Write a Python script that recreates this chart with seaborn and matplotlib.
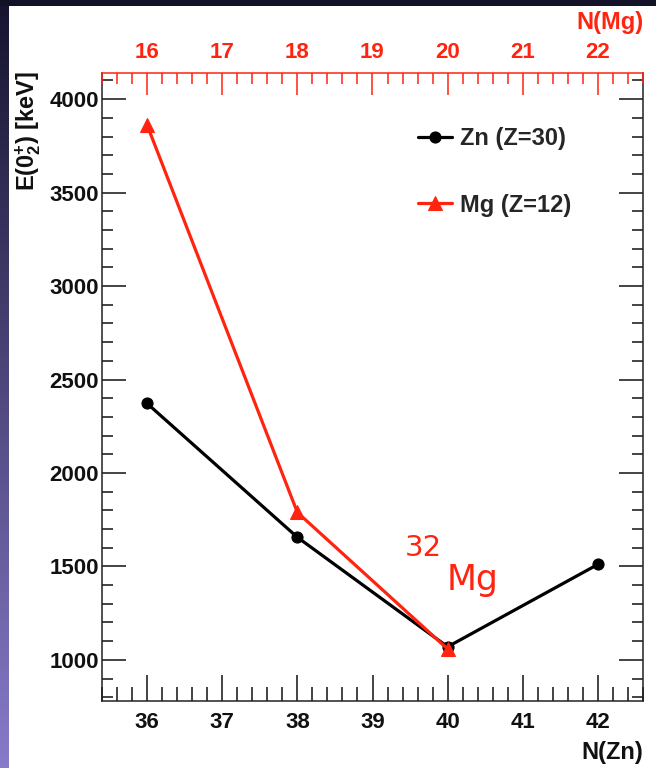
import numpy as np
import pandas as pd
import matplotlib
matplotlib.use('Agg')
import matplotlib.pyplot as plt
from matplotlib.ticker import MultipleLocator
from matplotlib.patches import Rectangle
import seaborn as sns

# Energies of the second 0+ state (keV)
n_zn = [36, 38, 40, 42]
e_zn = [2372, 1656, 1070, 1511]
n_mg = [16, 18, 20]
e_mg = [3862, 1789, 1058]

label_zn = 'Zn (Z=30)'
label_mg = 'Mg (Z=12)'

RED = '#ff2410'
W, H = 656, 768

sns.set_style('white')
plt.rcParams['font.family'] = ['Liberation Sans', 'DejaVu Sans']
plt.rcParams['font.weight'] = 'bold'
plt.rcParams['mathtext.fontset'] = 'custom'
plt.rcParams['mathtext.rm'] = 'Liberation Sans:bold'
plt.rcParams['mathtext.it'] = 'Liberation Sans:bold'
plt.rcParams['mathtext.bf'] = 'Liberation Sans:bold'

df_zn = pd.DataFrame({'N': n_zn, 'E': e_zn})
df_mg = pd.DataFrame({'N': n_mg, 'E': e_mg})

fig = plt.figure(figsize=(W / 100, H / 100), dpi=100)
fig.patch.set_facecolor('#111127')

# slide-like background: white panel and purple gradient strip on the left
fig.add_artist(Rectangle((9 / W, 0), 1, 1 - 6 / H, transform=fig.transFigure,
                         facecolor='white', edgecolor='none', zorder=-10))
bg = fig.add_axes([0, 0, 9 / W, 1 - 6 / H], zorder=-5)
top_c = np.array([0x16, 0x14, 0x2f]) / 255
bot_c = np.array([0x87, 0x7b, 0xca]) / 255
t = np.linspace(0, 1, 256)[:, None]
grad = top_c[None, :] * (1 - t) + bot_c[None, :] * t
bg.imshow(grad[:, None, :], aspect='auto', extent=[0, 1, 0, 1])
bg.set_axis_off()

ax = fig.add_axes([102 / W, 1 - 701 / H, (643 - 102) / W, (701 - 73) / H])
ax.set_facecolor('white')
sns.lineplot(data=df_zn, x='N', y='E', ax=ax, color='black', lw=2.3,
             marker='o', markersize=8, markeredgecolor='black', label=label_zn,
             legend=False)
ax.set_xlim(35.4, 42.6)
ax.set_ylim(780, 4140)

ax2 = ax.twiny()
sns.lineplot(data=df_mg, x='N', y='E', ax=ax2, color=RED, lw=2.3,
             marker='^', markersize=10, markeredgecolor=RED, label=label_mg,
             legend=False)
ax2.set_xlim(15.4, 22.6)
ax2.set_ylim(780, 4140)

# axis styling (ROOT look: inward ticks, mirrored y)
for a in (ax, ax2):
    a.set_xlabel('')
    a.set_ylabel('')
for s in ['left', 'bottom', 'right']:
    ax.spines[s].set_color('#222222')
    ax.spines[s].set_linewidth(1.1)
    ax2.spines[s].set_visible(False)
ax.spines['top'].set_visible(False)
ax2.spines['top'].set_color(RED)
ax2.spines['top'].set_linewidth(1.1)

ax.xaxis.set_major_locator(MultipleLocator(1))
ax.xaxis.set_minor_locator(MultipleLocator(0.2))
ax.yaxis.set_major_locator(MultipleLocator(500))
ax.yaxis.set_minor_locator(MultipleLocator(100))
ax.tick_params(axis='x', which='both', direction='in', top=False, bottom=True,
               labelsize=16, pad=8, colors='#111111')
ax.tick_params(axis='x', which='major', length=19, width=1.1)
ax.tick_params(axis='x', which='minor', length=10, width=1.1)
ax.tick_params(axis='y', which='both', direction='in', left=True, right=True,
               labelsize=16, pad=2, colors='#111111')
ax.tick_params(axis='y', which='major', length=17, width=1.1)
ax.tick_params(axis='y', which='minor', length=8, width=1.1)

ax2.xaxis.set_major_locator(MultipleLocator(1))
ax2.xaxis.set_minor_locator(MultipleLocator(0.2))
ax2.tick_params(axis='x', which='both', direction='in', top=True, bottom=False,
                labelsize=16, pad=7.5, colors=RED)
ax2.tick_params(axis='x', which='major', length=16, width=1.1)
ax2.tick_params(axis='x', which='minor', length=8, width=1.1)
ax2.tick_params(axis='y', left=False, right=False, labelleft=False)

for lab in ax.get_xticklabels() + ax.get_yticklabels() + ax2.get_xticklabels():
    lab.set_fontweight('bold')

# legend
h1, l1 = ax.get_legend_handles_labels()
h2, l2 = ax2.get_legend_handles_labels()
leg = ax2.legend(h1 + h2, l1 + l2, loc='upper left', bbox_to_anchor=(0.584, 0.914),
                 frameon=False, handlelength=1.45, handletextpad=0.35,
                 labelspacing=1.85, borderpad=0, borderaxespad=0, numpoints=1,
                 prop={'weight': 'bold', 'size': 17})

# annotation for 32Mg
ax.text(39.43, 1600, '32', color=RED, fontsize=21, family='DejaVu Sans',
        fontweight='normal', ha='left', va='center')
ax.text(39.99, 1375, 'Mg', color=RED, fontsize=25, family='DejaVu Sans',
        fontweight='normal', ha='left', va='baseline')

# axis titles
fig.text(643 / W, 1 - 752 / H, 'N(Zn)', ha='right', va='center', fontsize=17,
         fontweight='bold', color='#111111')
fig.text(643 / W, 1 - 22 / H, 'N(Mg)', ha='right', va='center', fontsize=17,
         fontweight='bold', color=RED)
fig.text(28 / W, 1 - 71 / H, r'E(0$^{+}_{2}$) [keV]', ha='center', va='top',
         rotation=90, fontsize=17, fontweight='bold', color='#111111')

fig.savefig('out.png', dpi=100, facecolor=fig.get_facecolor())
